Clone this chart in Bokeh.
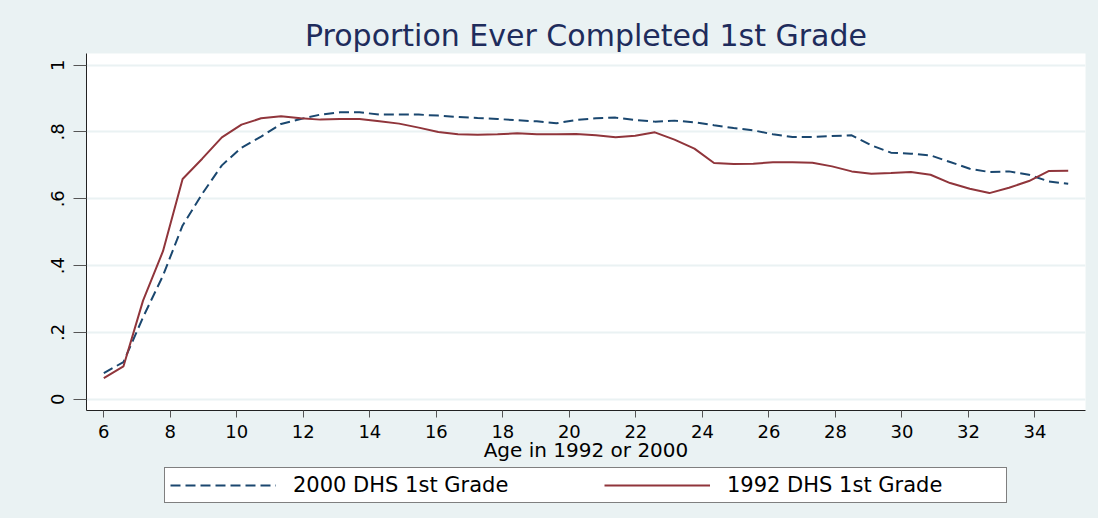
from bokeh.plotting import figure
from bokeh.layouts import column
from bokeh.models import Range1d, FixedTicker, Legend, LegendItem
from bokeh.embed import file_html
from bokeh.resources import INLINE

# ---- data ----
age = [6.0, 6.59, 7.18, 7.78, 8.37, 8.96, 9.55, 10.14, 10.73, 11.33,
       11.92, 12.51, 13.10, 13.69, 14.29, 14.88, 15.47, 16.06, 16.65, 17.24,
       17.84, 18.43, 19.02, 19.61, 20.20, 20.80, 21.39, 21.98, 22.57, 23.16,
       23.76, 24.35, 24.94, 25.53, 26.12, 26.71, 27.31, 27.90, 28.49, 29.08,
       29.67, 30.27, 30.86, 31.45, 32.04, 32.63, 33.22, 33.82, 34.41, 35.0]

dhs2000 = [0.078, 0.111, 0.245, 0.370, 0.520, 0.615, 0.700, 0.753, 0.786, 0.824,
           0.839, 0.852, 0.859, 0.859, 0.852, 0.852, 0.852, 0.849, 0.845, 0.842,
           0.839, 0.835, 0.832, 0.826, 0.836, 0.841, 0.843, 0.836, 0.831, 0.834,
           0.829, 0.820, 0.812, 0.805, 0.793, 0.785, 0.785, 0.788, 0.790, 0.760,
           0.738, 0.735, 0.730, 0.710, 0.690, 0.680, 0.682, 0.672, 0.652, 0.645]

dhs1992 = [0.063, 0.098, 0.295, 0.443, 0.659, 0.720, 0.784, 0.822, 0.841, 0.847,
           0.841, 0.837, 0.839, 0.839, 0.832, 0.825, 0.813, 0.800, 0.793, 0.792,
           0.793, 0.796, 0.793, 0.793, 0.794, 0.790, 0.784, 0.789, 0.799, 0.777,
           0.750, 0.707, 0.704, 0.705, 0.709, 0.709, 0.708, 0.697, 0.682, 0.675,
           0.677, 0.680, 0.672, 0.647, 0.630, 0.617, 0.633, 0.653, 0.683, 0.684]

series_names = ["2000 DHS 1st Grade", "1992 DHS 1st Grade"]
x_ticks = [6, 8, 10, 12, 14, 16, 18, 20, 22, 24, 26, 28, 30, 32, 34]
y_ticks = [0, 0.2, 0.4, 0.6, 0.8, 1.0]
y_tick_labels = ["0", ".2", ".4", ".6", ".8", "1"]
title_text = "Proportion Ever Completed 1st Grade"
x_label = "Age in 1992 or 2000"

# ---- styling ----
BG = "#EAF2F3"
NAVY = "#1A476F"
MAROON = "#90353B"
FONT = "DejaVu Sans"
DASH = "10 5"

p = figure(width=1098, height=464,
           x_range=Range1d(5.48, 35.52), y_range=Range1d(-0.034, 1.035),
           output_backend="svg", toolbar_location=None,
           min_border_left=86, min_border_right=13,
           min_border_top=53, min_border_bottom=54)

p.background_fill_color = "white"
p.border_fill_color = BG
p.outline_line_color = None

p.title.text = title_text
p.title.align = "center"
p.title.text_font = FONT
p.title.text_font_size = "30px"
p.title.text_font_style = "normal"
p.title.text_color = "#1E2C5C"
p.title.standoff = 2

# grid
p.xgrid.grid_line_color = None
p.ygrid.ticker = FixedTicker(ticks=y_ticks)
p.ygrid.grid_line_color = BG
p.ygrid.grid_line_width = 2

# x axis
p.xaxis.ticker = FixedTicker(ticks=x_ticks)
p.xaxis.axis_label = x_label
p.xaxis.axis_label_text_font = FONT
p.xaxis.axis_label_text_font_size = "20px"
p.xaxis.axis_label_text_font_style = "normal"
p.xaxis.axis_label_text_color = "black"
p.xaxis.axis_label_standoff = -3
p.xaxis.major_label_text_font = FONT
p.xaxis.major_label_text_font_size = "18px"
p.xaxis.major_label_text_color = "black"
p.xaxis.major_label_standoff = 7
p.xaxis.major_tick_out = 7
p.xaxis.major_tick_in = 0
p.xaxis.minor_tick_line_color = None
p.xaxis.axis_line_color = "#222222"
p.xaxis.major_tick_line_color = "#555555"

# y axis
p.yaxis.ticker = FixedTicker(ticks=y_ticks)
p.yaxis.major_label_overrides = {t: l for t, l in zip(y_ticks, y_tick_labels)}
p.yaxis.major_label_orientation = "vertical"
p.yaxis.major_label_text_font = FONT
p.yaxis.major_label_text_font_size = "18px"
p.yaxis.major_label_text_color = "black"
p.yaxis.major_label_standoff = 9
p.yaxis.major_tick_out = 13
p.yaxis.major_tick_in = 0
p.yaxis.minor_tick_line_color = None
p.yaxis.axis_line_color = "#222222"
p.yaxis.major_tick_line_color = "#555555"

p.line(age, dhs2000, line_color=NAVY, line_width=2, line_dash=DASH)
p.line(age, dhs1992, line_color=MAROON, line_width=2)

# ---- legend strip below the chart ----
lg = figure(width=1098, height=54,
            x_range=Range1d(0, 1), y_range=Range1d(0, 1),
            output_backend="svg", toolbar_location=None,
            min_border_left=0, min_border_right=0,
            min_border_top=0, min_border_bottom=0)
lg.axis.visible = False
lg.grid.visible = False
lg.background_fill_color = BG
lg.border_fill_color = BG
lg.outline_line_color = None

k2000 = lg.line(age, dhs2000, line_color=NAVY, line_width=2, line_dash=DASH, visible=False)
k1992 = lg.line(age, dhs1992, line_color=MAROON, line_width=2, visible=False)

legend = Legend(items=[LegendItem(label=series_names[0], renderers=[k2000]),
                       LegendItem(label=series_names[1], renderers=[k1992])],
                orientation="horizontal", location=(78, 15))
legend.label_text_font = FONT
legend.label_text_font_size = "21px"
legend.label_text_color = "black"
legend.glyph_width = 106
legend.glyph_height = 20
legend.label_height = 20
legend.label_width = 274
legend.label_standoff = 17
legend.spacing = 37
legend.padding = 5
legend.margin = 0
legend.border_line_color = "black"
legend.border_line_width = 1
legend.background_fill_color = "white"
legend.background_fill_alpha = 1
lg.add_layout(legend)

layout = column(p, lg, spacing=0, styles={"background-color": BG})
open("out.html", "w").write(file_html(layout, INLINE))
